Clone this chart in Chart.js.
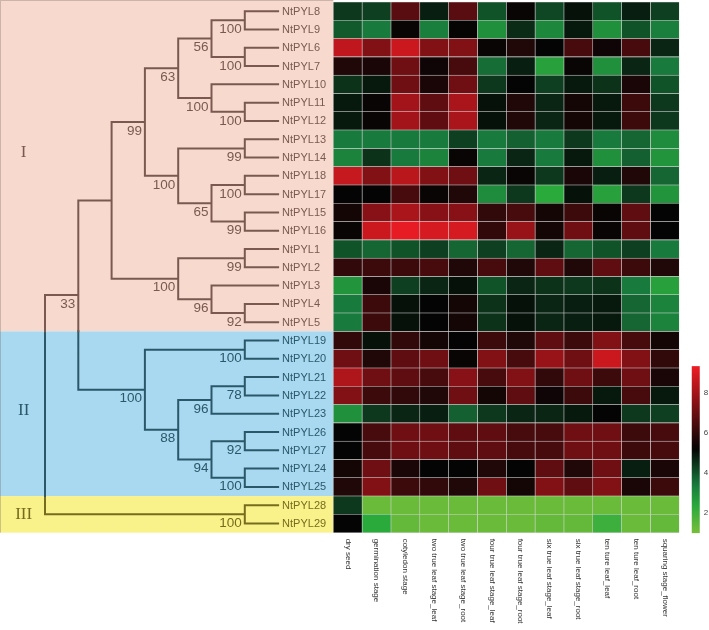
<!DOCTYPE html>
<html><head><meta charset="utf-8">
<script src="https://cdn.jsdelivr.net/npm/chart.js@4.4.1/dist/chart.umd.min.js"></script>
<style>html,body{margin:0;padding:0;background:#fff}#wrap{width:709px;height:630px;position:relative}</style>
</head><body><div id="wrap"><canvas id="c"></canvas></div>
<script>
// ---------------- DATA ----------------
const genes = ['NtPYL8','NtPYL9','NtPYL6','NtPYL7','NtPYL10','NtPYL11','NtPYL12','NtPYL13','NtPYL14','NtPYL18','NtPYL17','NtPYL15','NtPYL16','NtPYL1','NtPYL2','NtPYL3','NtPYL4','NtPYL5','NtPYL19','NtPYL20','NtPYL21','NtPYL22','NtPYL23','NtPYL26','NtPYL27','NtPYL24','NtPYL25','NtPYL28','NtPYL29'];
const stages = ['dry seed','germination stage','cotyledon stage','two true leaf stage_leaf','two true leaf stage_root','four true leaf stage_leaf','four true leaf stage_root','six true leaf stage_leaf','six true leaf stage_root','ten ture leaf_leaf','ten ture leaf_root','squaring stage_flower'];

// expression per stage (rows follow `genes`)
const drySeed     = [4.4,3.9,8.5,5.7,4.5,4.9,4.9,3.4,3.2,8.6,5.2,5.5,5.3,4.0,6.0,2.8,3.4,3.4,6.0,7.1,8.2,7.4,2.9,5.2,5.2,5.5,5.7,4.4,5.2];
const germination = [4.3,3.4,7.4,5.6,4.9,5.3,5.3,3.4,4.5,7.4,5.2,7.5,8.7,3.7,6.2,5.6,6.2,6.2,5.0,5.7,7.1,6.2,4.4,6.4,6.4,7.1,7.4,1.2,2.3];
const cotyledon   = [6.7,5.3,8.7,7.1,7.1,8.0,8.0,3.4,3.4,8.4,6.4,8.1,9.2,4.0,6.2,4.3,5.0,5.0,6.0,6.8,6.8,6.0,4.7,7.1,7.1,5.6,6.2,1.2,1.3];
const twoLeaf     = [4.8,3.3,7.4,5.4,5.6,6.8,6.8,3.4,3.2,7.4,5.3,7.5,8.9,4.3,6.4,4.7,5.2,5.2,5.5,7.1,6.4,5.7,4.8,7.1,7.1,5.2,6.0,1.2,1.2];
const twoRoot     = [6.7,5.25,7.4,6.4,7.1,8.1,8.1,4.3,5.3,7.1,5.7,7.5,8.9,3.7,5.7,5.0,5.5,5.5,5.2,5.3,7.5,7.1,3.8,6.8,6.8,5.2,5.7,1.2,1.2];
const fourLeaf    = [4.0,2.9,5.3,3.6,4.4,5.0,5.0,3.4,3.4,4.7,3.0,6.0,6.0,4.3,6.4,4.0,4.5,4.5,6.2,7.4,6.4,5.5,4.4,6.8,6.8,5.7,7.1,1.2,1.2];
const fourRoot    = [5.3,4.6,5.7,4.8,5.2,5.7,5.7,3.8,4.7,5.3,4.4,6.4,7.8,3.7,5.7,4.7,5.0,5.0,5.7,6.4,7.4,6.8,4.7,6.4,6.4,5.2,5.5,1.2,1.2];
const sixLeaf     = [4.2,3.1,5.2,2.5,4.3,4.7,4.7,3.4,3.4,4.4,2.3,5.5,5.5,4.7,6.8,4.5,4.7,4.7,6.8,7.8,6.0,5.4,4.7,6.4,6.4,6.8,7.4,1.2,1.3];
const sixRoot     = [5.0,4.9,6.4,5.3,4.9,5.5,5.5,4.4,4.9,5.6,5.0,6.2,7.1,3.7,5.7,4.4,4.8,4.8,6.2,7.1,7.1,6.2,4.9,7.1,7.1,5.7,6.8,1.2,1.3];
const tenLeaf     = [4.0,2.9,5.4,2.9,4.5,4.9,4.9,3.4,2.9,4.8,2.5,5.3,5.3,4.0,6.8,4.5,4.9,4.9,7.4,8.7,6.2,4.9,5.2,7.1,7.1,7.1,7.4,1.2,2.0];
const tenRoot     = [4.8,4.0,6.4,4.7,5.6,6.2,6.2,3.7,3.8,5.7,4.4,6.8,6.8,4.3,6.2,3.4,3.7,3.7,6.4,7.4,7.1,6.4,4.4,6.2,6.2,4.8,5.6,1.2,1.2];
const squaring    = [4.3,3.3,4.7,3.4,4.0,4.4,4.4,3.0,2.8,3.7,2.8,5.2,5.2,3.4,5.7,2.5,3.2,3.2,5.5,6.0,5.6,4.9,4.3,6.4,6.4,5.6,6.2,1.2,1.3];
const stageValues = [drySeed,germination,cotyledon,twoLeaf,twoRoot,fourLeaf,fourRoot,sixLeaf,sixRoot,tenLeaf,tenRoot,squaring];

// dendrogram: [depth, bootstrap, child, child] ; leaves = row index in genes
const tree = [0,'',
  [1,'33',
    [2,'',
      [3,'99',
        [4,'63',
          [5,'56',[6,'100',0,1],[6,'100',2,3]],
          [5,'100',4,[6,'100',5,6]]],
        [4,'100',[6,'99',7,8],[5,'65',[6,'100',9,10],[6,'99',11,12]]]],
      [4,'100',[6,'99',13,14],[5,'96',15,[6,'92',16,17]]]],
    [3,'100',[6,'100',18,19],
      [4,'88',[5,'96',[6,'78',20,21],22],[5,'94',[6,'92',23,24],[6,'100',25,26]]]]],
  [6,'100',27,28]];
const leafDepth = 7;

const cladeNames = ['I','II','III'];
const cladeFirstRow = [0,18,27];
const cladeLastRow = [17,26,28];
const colorbarTicks = [2,4,6,8];
const colorbarRange = [0.98,9.33];

// ---------------- STYLE ----------------
const regionBg = ['#f7dacd','#a8d9f0','#f9f28b'];
const regionInk = ['#7a5a50','#2b5869','#776c1e'];
const colorStops = [[1.0,[118,190,58]],[2.3,[43,170,60]],[3.4,[24,122,60]],[5.2,[4,4,4]],[9.3,[237,28,36]]];
function colorFor(v){
  if (v<=colorStops[0][0]) return 'rgb('+colorStops[0][1].join(',')+')';
  for (let i=1;i<colorStops.length;i++){
    const [v1,c1]=colorStops[i], [v0,c0]=colorStops[i-1];
    if (v<=v1){const t=(v-v0)/(v1-v0);return 'rgb('+c0.map((c,k)=>Math.round(c+(c1[k]-c)*t)).join(',')+')';}
  }
  return 'rgb('+colorStops[colorStops.length-1][1].join(',')+')';
}
const boundaries = cladeLastRow.slice(0,-1).map(r=>r+0.5);
function regionOf(yv){let k=0;while(k<boundaries.length&&yv>boundaries[k])k++;return k;}

// ---------------- TREE LAYOUT ----------------
const segs = []; const supports = [];
function walk(node,parentDepth){
  if (typeof node==='number'){
    if(parentDepth!==null) segs.push([parentDepth,node,leafDepth,node]);
    return node;
  }
  const [d,s,...kids]=node;
  const ys=kids.map(k=>walk(k,d));
  const yv=(ys[0]+ys[ys.length-1])/2;
  let pts=[ys[0],...boundaries.filter(b=>b>ys[0]&&b<ys[ys.length-1]),ys[ys.length-1]];
  for(let i=0;i<pts.length-1;i++) segs.push([d,pts[i],d,pts[i+1]]);
  if(parentDepth!==null) segs.push([parentDepth,yv,d,yv]);
  if(s) supports.push({d,y:yv,s});
  return yv;
}
walk(tree,null);
const treeData=[[],[],[]];
segs.forEach(([x0,y0,x1,y1])=>{
  const r=regionOf((y0+y1)/2);
  treeData[r].push({x:x0,y:y0},{x:x1,y:y1},{x:x1,y:null});
});

const datasets=[];
treeData.forEach((data,r)=>datasets.push({
  type:'line',data,xAxisID:'x',yAxisID:'y',borderColor:regionInk[r],borderWidth:2,
  pointRadius:0,spanGaps:false,fill:false,tension:0,borderCapStyle:'square',order:0
}));
stageValues.forEach((vals,c)=>datasets.push({
  type:'bar',indexAxis:'y',xAxisID:'x2',yAxisID:'y',label:stages[c],
  data:vals.map((v,i)=>({x:[c,c+1],y:i})),
  backgroundColor:vals.map(colorFor),borderColor:'rgba(205,205,205,0.75)',borderWidth:0.6,
  borderSkipped:false,grouped:false,barPercentage:1,categoryPercentage:1,order:1
}));

// ---------------- PLUGIN ----------------
const SANS='"Liberation Sans", Arial, sans-serif';
const decor={
  id:'decor',
  beforeDatasetsDraw(chart){
    const {ctx,chartArea:a,scales:{x2,y}}=chart;
    const right=x2.getPixelForValue(0);
    const edges=[a.top,...boundaries.map(b=>y.getPixelForValue(b)),y.getPixelForValue(cladeLastRow[cladeLastRow.length-1]+0.5)];
    ctx.save();
    for(let k=0;k<regionBg.length;k++){
      ctx.fillStyle=regionBg[k];
      ctx.fillRect(a.left,edges[k],right-a.left,edges[k+1]-edges[k]);
    }
    ctx.strokeStyle='rgba(120,110,105,0.35)';ctx.lineWidth=1;
    ctx.beginPath();ctx.moveTo(a.left+0.5,edges[edges.length-1]);ctx.lineTo(a.left+0.5,a.top+0.5);ctx.lineTo(right,a.top+0.5);ctx.stroke();
    ctx.font='17px "Liberation Serif", "Times New Roman", serif';
    ctx.textAlign='center';ctx.textBaseline='middle';
    const shift=[-0.8,-0.15,0];
    cladeNames.forEach((n,k)=>{
      ctx.fillStyle=regionInk[k];
      const yy=y.getPixelForValue((cladeFirstRow[k]+cladeLastRow[k])/2+shift[k]);
      ctx.fillText(n,chart.scales.x.getPixelForValue(-0.64),yy);
    });
    ctx.restore();
  },
  afterDatasetsDraw(chart){
    const {ctx,scales:{x,x2,y,yc}}=chart;
    ctx.save();
    ctx.font='11px '+SANS;ctx.textAlign='left';ctx.textBaseline='middle';
    genes.forEach((g,i)=>{ctx.fillStyle=regionInk[regionOf(i)];ctx.fillText(g,x.getPixelForValue(leafDepth)+4,y.getPixelForValue(i)+0.5);});
    ctx.font='13.5px '+SANS;ctx.textAlign='right';
    supports.forEach(p=>{ctx.fillStyle=regionInk[regionOf(p.y)];ctx.fillText(p.s,x.getPixelForValue(p.d)-3,y.getPixelForValue(p.y)+9);});
    ctx.font='8px '+SANS;ctx.fillStyle='#333';ctx.textAlign='left';ctx.textBaseline='middle';
    const yb=y.getPixelForValue(genes.length-0.5)+6;
    stages.forEach((s,c)=>{
      ctx.save();ctx.translate(x2.getPixelForValue(c+0.5),yb);ctx.rotate(Math.PI/2);ctx.fillText(s,0,0);ctx.restore();
    });
    const bx=x2.getPixelForValue(stages.length)+12.5, bw=8;
    const yTop=yc.getPixelForValue(colorbarRange[1]), yBot=yc.getPixelForValue(colorbarRange[0]);
    const grad=ctx.createLinearGradient(0,yBot,0,yTop);
    for(let i=0;i<=40;i++){const v=colorbarRange[0]+(colorbarRange[1]-colorbarRange[0])*i/40;grad.addColorStop(i/40,colorFor(v));}
    ctx.fillStyle=grad;ctx.fillRect(bx,yTop,bw,yBot-yTop);
    ctx.font='8px '+SANS;ctx.fillStyle='#444';ctx.textAlign='left';
    colorbarTicks.forEach(t=>ctx.fillText(String(t),bx+bw+4,yc.getPixelForValue(t)));
    ctx.restore();
  }
};

const common={display:false,offset:false,grace:0,bounds:'data',beginAtZero:false};
new Chart(document.getElementById('c'),{
  type:'scatter',
  data:{datasets},
  options:{
    responsive:true,maintainAspectRatio:false,animation:false,events:[],
    layout:{padding:0},
    plugins:{legend:{display:false},tooltip:{enabled:false},title:{display:false}},
    scales:{
      x:{...common,type:'linear',min:-1.3514,max:19.94},
      x2:{...common,type:'linear',min:-11.561,max:13.032},
      y:{...common,type:'linear',min:-0.609,max:33.82,reverse:true},
      yc:{...common,type:'linear',min:-3.865,max:27.64}
    }
  },
  plugins:[decor]
});
</script></body></html>
